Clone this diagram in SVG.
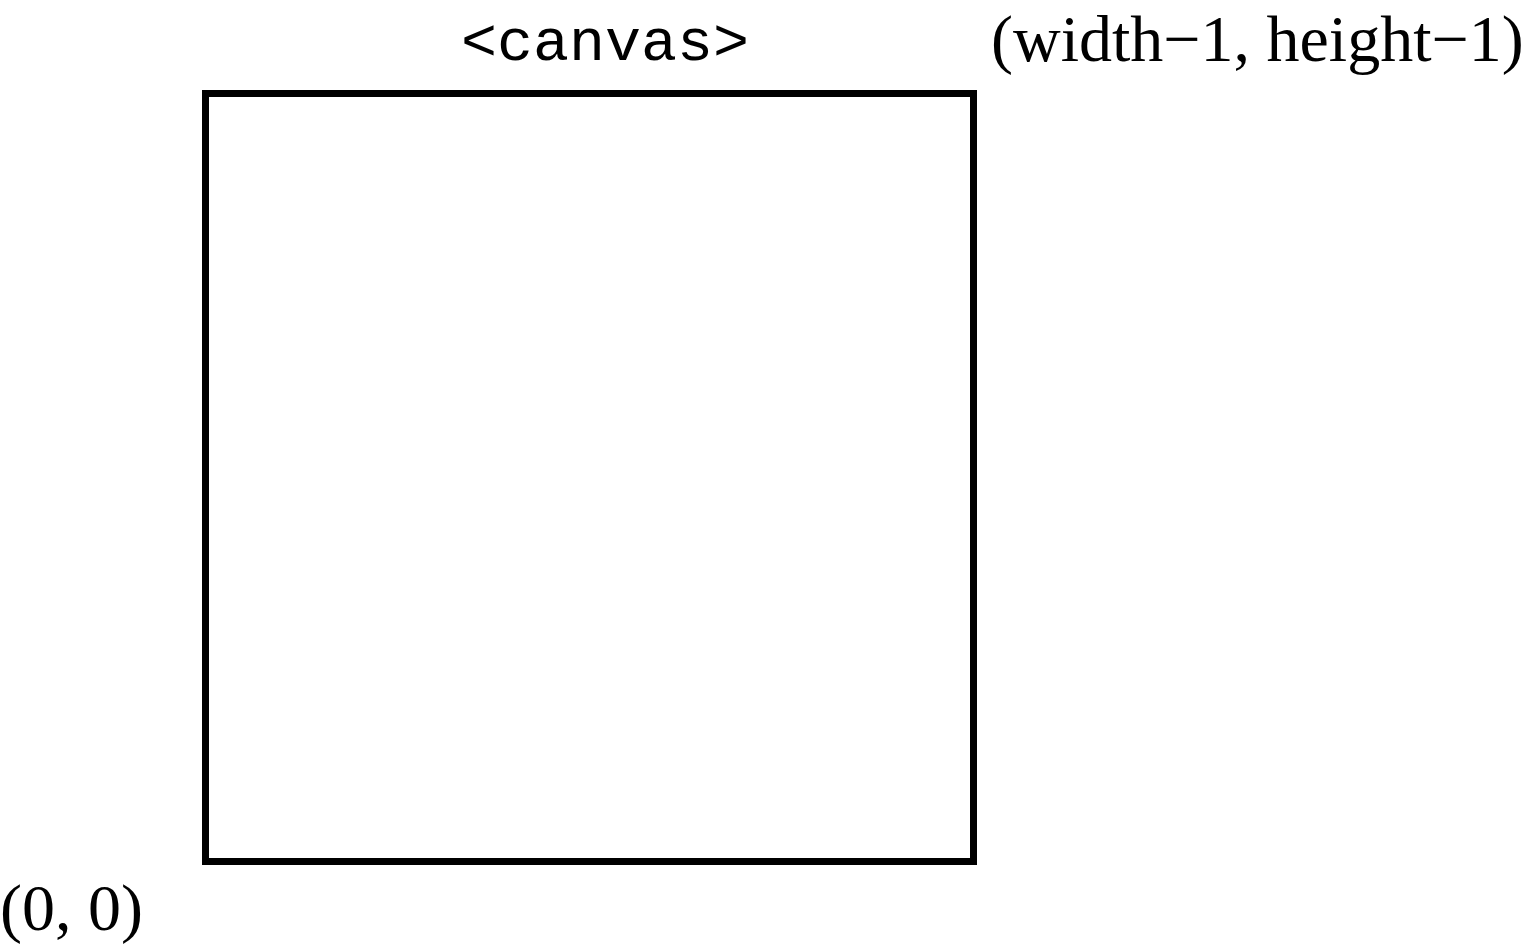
<svg xmlns="http://www.w3.org/2000/svg" width="1528" height="950" viewBox="0 0 1528 950">
<style>
.serif{font-family:"Liberation Serif","Times New Roman",serif;font-size:66px;fill:#000}
.mono{font-family:"Liberation Mono","Courier New",monospace;font-size:60px;fill:#000}
</style>
<rect width="1528" height="950" fill="#fff"/>
<g id="canvas">
<rect x="205.5" y="93.5" width="768" height="768" fill="none" stroke="#000" stroke-width="7"/>
<text class="mono" x="605" y="60" text-anchor="middle">&lt;canvas&gt;</text>
</g>
<g id="label-topright">
<text class="serif" x="991" y="61">(width−1, height−1)</text>
</g>
<g id="label-origin">
<text class="serif" x="0" y="930">(0, 0)</text>
</g>
<g id="connectors"/>
</svg>
